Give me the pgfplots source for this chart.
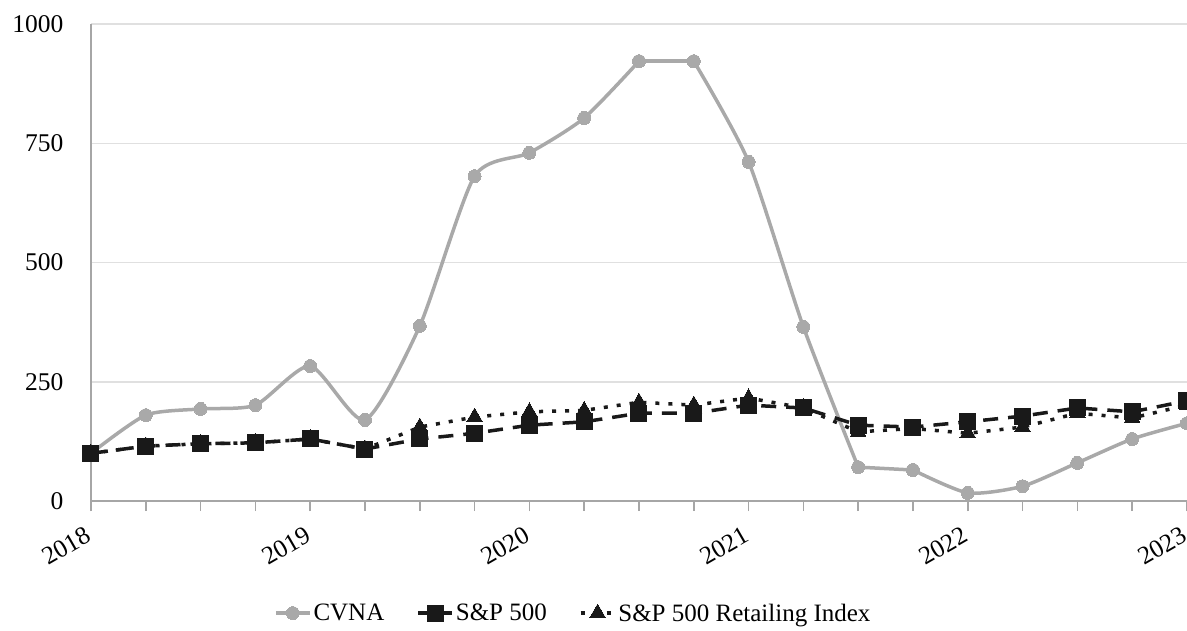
\documentclass[border=0pt]{standalone}
\usepackage{fontspec}
\setmainfont{Liberation Serif}
\usepackage{pgfplots}
\pgfplotsset{compat=1.18}
\definecolor{cvna}{HTML}{A9A9A9}
\definecolor{axgray}{HTML}{A6A6A6}
\definecolor{gridgray}{HTML}{E0E0E0}
\begin{document}
\begin{tikzpicture}[font=\fontsize{22}{26}\selectfont]
\begin{axis}[
  scale only axis,
  width=1096pt, height=477pt,
  xmin=0, xmax=20, ymin=0, ymax=1000,
  axis line style={axgray, line width=1.5pt},
  axis x line*=bottom, axis y line*=left,
  xtick={0,4,...,20},
  xticklabels={2018,2019,2020,2021,2022,2023},
  minor xtick={0,...,20},
  tick align=outside,
  major tick length=10pt, minor tick length=10pt,
  x tick style={axgray, line width=1.5pt},
  ytick={0,250,500,750,1000},
  y tick style={draw=none},
  ymajorgrids,
  grid style={gridgray, line width=1.5pt},
  /pgf/number format/assume math mode=true,
  /pgf/number format/1000 sep={},
  tick label style={font=\fontsize{25.5}{30}\selectfont},
  yticklabel style={xshift=-14pt},
  xticklabel style={xshift=-6pt, yshift=-13pt, rotate=30, anchor=north east, inner sep=1pt},
  clip=false,
  legend columns=3,
  legend style={draw=none, fill=none, at={(0.44,-0.235)}, anchor=center,
    font=\fontsize{25}{29}\selectfont,
    /tikz/every even column/.append style={column sep=30pt}},
  legend image code/.code={\draw[mark repeat=2,mark phase=2,#1] plot coordinates {(0pt,0pt)(17pt,0pt)(34pt,0pt)};},
  cvnastyle/.style={cvna, line width=3.5pt, mark=*, mark size=6.5pt, mark options={solid, fill=cvna, draw=cvna, line width=0pt}},
]
\addplot[cvnastyle, smooth, tension=0.4]
coordinates {(0,100)(1,180)(2,193)(3,201)(4,283)(5,170)(6,367)(7,681)(8,730)(9,803)(10,922)};
\addlegendentry{CVNA}
\addplot[cvnastyle, forget plot] coordinates {(10,922)(11,922)};
\addplot[cvnastyle, smooth, tension=0.4, forget plot] coordinates {(11,922)(12,711)(13,365)(14,71)};
\addplot[cvnastyle, forget plot] coordinates {(14,71)(15,65)};
\addplot[cvnastyle, smooth, tension=0.4, forget plot] coordinates {(15,65)(16,17)(17,31)(18,80)(19,130)(20,163)};
\addplot[black!90, line width=3.5pt, dash pattern=on 15pt off 10pt, mark=square*, mark size=8pt, mark options={solid, fill=black!90, line width=0pt}]
coordinates {(0,100)(1,115)(2,120)(3,122)(4,130)(5,109)(6,130)(7,142)(8,159)(9,166)(10,184)(11,184)(12,201)(13,195)(14,159)(15,155)(16,166)(17,178)(18,195)(19,187)(20,210)};
\addlegendentry{S\&P 500}
\addplot[black!90, line width=3.5pt, dash pattern=on 4pt off 9pt, mark=triangle*, mark size=9pt, mark options={solid, fill=black!90, line width=0pt}]
coordinates {(0,100)(1,115)(2,120)(3,122)(4,130)(5,109)(6,155)(7,176)(8,187)(9,190)(10,207)(11,201)(12,216)(13,195)(14,145)(15,152)(16,142)(17,155)(18,184)(19,174)(20,201)};
\addlegendentry{S\&P 500 Retailing Index}
\end{axis}
\pgfresetboundingbox
\path[use as bounding box] (-91pt,-129pt) rectangle (1096pt,501pt);
\end{tikzpicture}
\end{document}
